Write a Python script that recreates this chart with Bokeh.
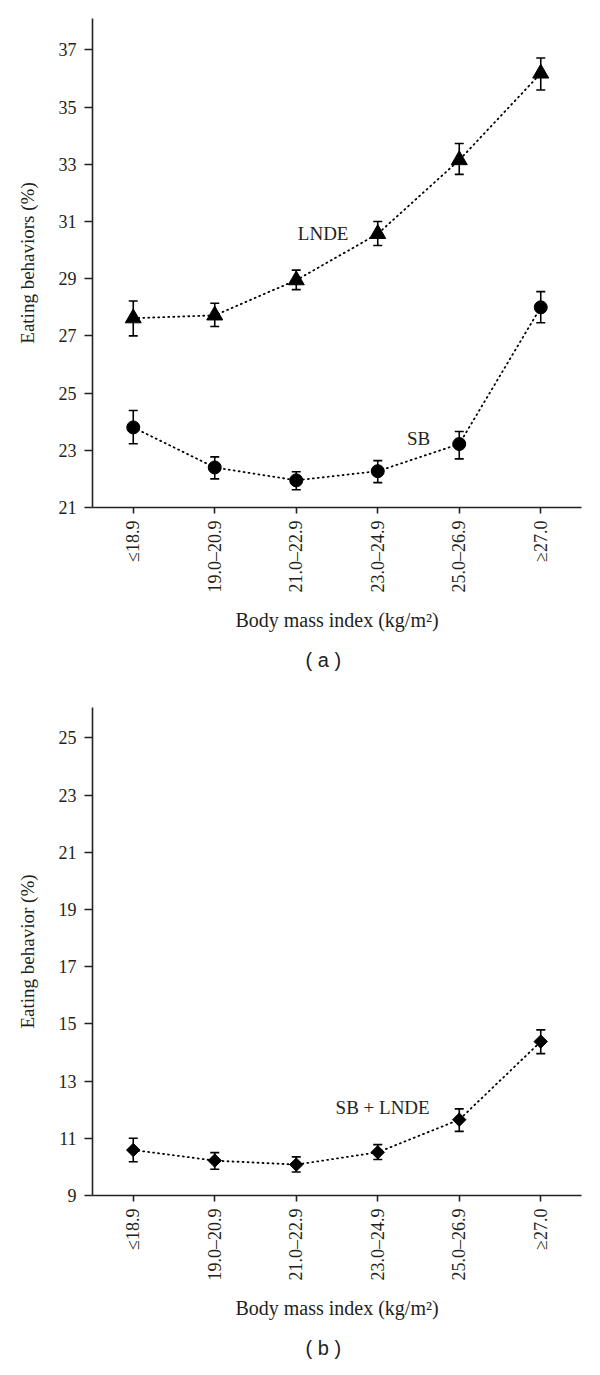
import numpy as np
from bokeh.plotting import figure
from bokeh.models import Range1d, FixedTicker, Whisker, TeeHead, ColumnDataSource, Title, Label
from bokeh.layouts import column
from bokeh.embed import file_html
from bokeh.resources import INLINE

# ---------------- data ----------------
categories = ["≤18.9", "19.0–20.9", "21.0–22.9", "23.0–24.9", "25.0–26.9", "≥27.0"]

lnde_mean = [27.62, 27.72, 28.95, 30.57, 33.15, 36.18]
lnde_low = [27.00, 27.33, 28.62, 30.16, 32.65, 35.60]
lnde_high = [28.22, 28.14, 29.30, 31.00, 33.73, 36.72]

sb_mean = [23.80, 22.40, 21.95, 22.27, 23.22, 28.00]
sb_low = [23.23, 22.00, 21.62, 21.87, 22.70, 27.46]
sb_high = [24.39, 22.77, 22.25, 22.64, 23.66, 28.55]

combo_mean = [10.59, 10.22, 10.08, 10.51, 11.65, 14.38]
combo_low = [10.18, 9.92, 9.82, 10.26, 11.24, 13.96]
combo_high = [11.00, 10.50, 10.35, 10.78, 12.03, 14.79]

ticks_a = [21, 23, 25, 27, 29, 31, 33, 35, 37]
ticks_b = [9, 11, 13, 15, 17, 19, 21, 23, 25]

SERIF = "Liberation Serif"
INK = "#231f20"

x_pos = [i + 0.5 for i in range(len(categories))]


def base_fig(height, ymin, ymax, yticks, ylabel, panel, top, bottom):
    p = figure(width=600, height=height,
               x_range=Range1d(0, len(categories)), y_range=Range1d(ymin, ymax),
               output_backend="svg", toolbar_location=None,
               min_border_left=92, min_border_right=19,
               min_border_top=top, min_border_bottom=bottom)
    p.outline_line_color = None
    p.grid.visible = False
    p.background_fill_color = "white"
    p.border_fill_color = "white"

    xa = p.xaxis[0]
    xa.ticker = FixedTicker(ticks=x_pos)
    xa.major_label_overrides = {x: c for x, c in zip(x_pos, categories)}
    xa.major_label_orientation = np.pi / 2
    xa.axis_label = "Body mass index (kg/m²)"

    ya = p.yaxis[0]
    ya.ticker = FixedTicker(ticks=yticks)
    ya.axis_label = ylabel

    for ax in (xa, ya):
        ax.axis_line_color = "#222222"
        ax.axis_line_width = 1.6
        ax.major_tick_line_color = "#222222"
        ax.major_tick_line_width = 1.6
        ax.major_tick_in = 0
        ax.minor_tick_line_color = None
        ax.major_label_text_font = SERIF
        ax.major_label_text_font_size = "18px"
        ax.major_label_text_color = INK
        ax.axis_label_text_font = SERIF
        ax.axis_label_text_font_size = "20px"
        ax.axis_label_text_font_style = "normal"
        ax.axis_label_text_color = INK
    ya.axis_label_text_font_size = "19px"
    xa.major_tick_out = 6
    xa.major_label_standoff = 7
    xa.axis_label_standoff = 13
    ya.major_tick_out = 8
    ya.major_label_standoff = 8
    ya.axis_label_standoff = 18

    t = Title(text=panel, align="left", offset=213, text_font="Liberation Sans",
              text_font_size="20px", text_font_style="normal", text_color=INK, standoff=26)
    p.add_layout(t, "below")
    return p


def add_series(p, mean, low, high, marker, size, angle=0.0):
    src = ColumnDataSource(dict(x=x_pos, y=mean, lo=low, hi=high))
    p.line("x", "y", source=src, line_color="black", line_width=1.8,
           line_dash="1 4", line_cap="round")
    w = Whisker(source=src, base="x", lower="lo", upper="hi",
                line_color="black", line_width=1.6,
                upper_head=TeeHead(size=9, line_color="black", line_width=1.6),
                lower_head=TeeHead(size=9, line_color="black", line_width=1.6))
    p.add_layout(w)
    p.scatter("x", "y", source=src, marker=marker, size=size, angle=angle,
              fill_color="black", line_color="black")


# ---------------- panel (a) ----------------
pa = base_fig(690, 21, 38.1, ticks_a, "Eating behaviors (%)", "( a )", 18, 183)
add_series(pa, lnde_mean, lnde_low, lnde_high, "triangle", 16)
add_series(pa, sb_mean, sb_low, sb_high, "circle", 13)
pa.add_layout(Label(x=2.83, y=30.58, text="LNDE", text_font=SERIF, text_font_size="19px",
                    text_align="center", text_baseline="middle", text_color=INK))
pa.add_layout(Label(x=4.0, y=23.41, text="SB", text_font=SERIF, text_font_size="19px",
                    text_align="center", text_baseline="middle", text_color=INK))

# ---------------- panel (b) ----------------
pb = base_fig(685, 9, 26.06, ticks_b, "Eating behavior (%)", "( b )", 17, 180)
add_series(pb, combo_mean, combo_low, combo_high, "square", 9.5, angle=np.pi / 4)
pb.add_layout(Label(x=3.56, y=12.08, text="SB + LNDE", text_font=SERIF, text_font_size="19px",
                    text_align="center", text_baseline="middle", text_color=INK))

layout = column(pa, pb, spacing=0)
open("out.html", "w").write(file_html(layout, INLINE))
